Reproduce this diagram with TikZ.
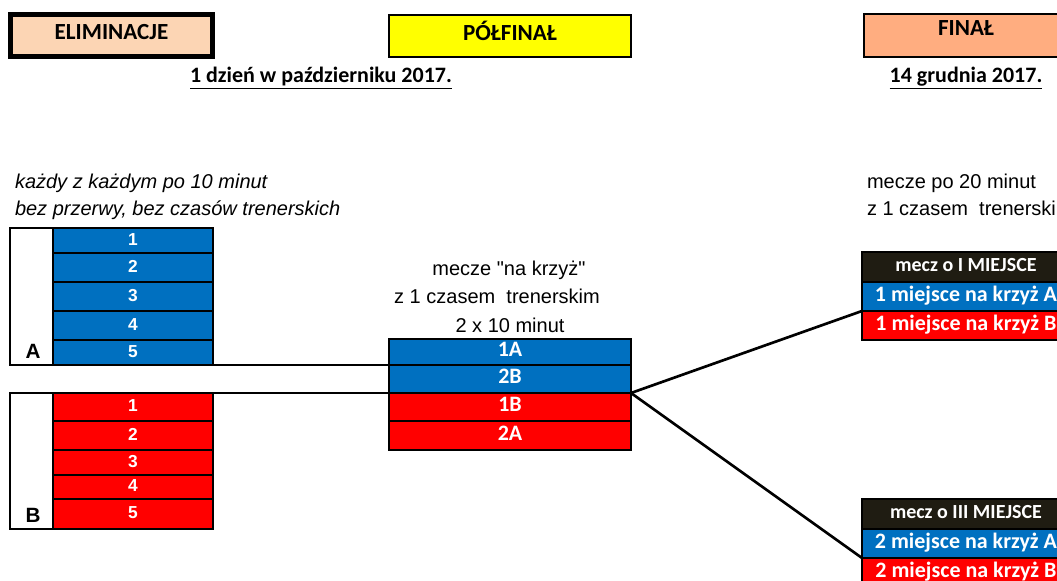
\documentclass[tikz,border=0pt]{standalone}
\usepackage{fontspec}
\setmainfont{Liberation Sans}
\newfontfamily\arialf{Liberation Sans}
\newfontfamily\calfont{Carlito}
\definecolor{xblue}{HTML}{0070C0}
\definecolor{xred}{HTML}{FF0000}
\definecolor{xpeach}{HTML}{FCD5B4}
\definecolor{xyellow}{HTML}{FFFF00}
\definecolor{xsalmon}{HTML}{FFAD80}
\definecolor{xdark}{HTML}{1F1C12}
\begin{document}
\begin{tikzpicture}[x=0.75pt,y=-0.75pt,
  every node/.append style={outer sep=0pt},
  sz/.style 2 args={minimum width=#1*0.75pt, minimum height=#2*0.75pt},
  tcell/.style={draw=black, line width=1.6pt, inner sep=0pt, text=white, text depth=0pt, text height=0.68em},
  numb/.style={tcell, fill=xblue, font=\arialf\bfseries\fontsize{13}{13}\selectfont},
  numr/.style={tcell, fill=xred, font=\arialf\bfseries\fontsize{13}{13}\selectfont},
  semb/.style={tcell, fill=xblue, font=\calfont\bfseries\fontsize{16.5}{16.5}\selectfont},
  semr/.style={tcell, fill=xred, font=\calfont\bfseries\fontsize{16.5}{16.5}\selectfont},
  finh/.style={tcell, fill=xdark, font=\calfont\bfseries\fontsize{15}{15}\selectfont},
  finb/.style={tcell, fill=xblue, font=\calfont\bfseries\fontsize{16.5}{16.5}\selectfont},
  finr/.style={tcell, fill=xred, font=\calfont\bfseries\fontsize{16.5}{16.5}\selectfont},
  outerbox/.style={draw=black, line width=1.6pt, inner sep=0pt},
  grp/.style={font=\arialf\bfseries\fontsize{15.5}{15.5}\selectfont, anchor=base, inner sep=0pt},
  hdr/.style={draw=black, inner sep=0pt, text depth=0pt, text height=0.64em, font=\calfont\bfseries\fontsize{17.3}{17.3}\selectfont},
  hdrtxt/.style={inner sep=0pt, text depth=0pt, text height=0.64em, font=\calfont\bfseries\fontsize{17.3}{17.3}\selectfont},
  datetxt/.style={inner sep=0pt, anchor=base, font=\calfont\bfseries\fontsize{16.5}{16.5}\selectfont},
  note/.style={inner sep=0pt, anchor=base west, font=\arialf\itshape\fontsize{15}{15}\selectfont},
  plain/.style={inner sep=0pt, anchor=base, font=\arialf\fontsize{15}{15}\selectfont},
  plainw/.style={inner sep=0pt, anchor=base west, font=\arialf\fontsize{15}{15}\selectfont},
  hline/.style={draw=black, line width=1.6pt},
  diag/.style={draw=black, line width=2pt}
]
\path[use as bounding box, clip] (0,0) rectangle (1057,581);

% headers
\node[hdr, fill=xpeach, line width=3.75pt, sz={202}{42.2}] (elim) at (111.5,35.6) {ELIMINACJE};
\node[hdr, fill=xyellow, line width=1.5pt, sz={242}{42}] (semi) at (510,36) {PÓŁFINAŁ};
\node[hdr, fill=xsalmon, line width=1.5pt, sz={211}{42.5}] (fin) at (969.5,35.75) {};
\node[hdrtxt] (finlab) at (966,31) {FINAŁ};
\node[datetxt] (d1) at (321,83) {\underline{1 dzień w październiku 2017.}};
\node[datetxt] (d2) at (966,83) {\underline{14 grudnia 2017.}};

% notes
\node[note] (n1) at (15,189) {każdy z każdym po 10 minut};
\node[note] (n2) at (15,215) {bez przerwy, bez czasów trenerskich};
\node[plain] (m1) at (509,275) {mecze "na krzyż"};
\node[plain] (m2) at (497,303) {z 1 czasem\ \ trenerskim};
\node[plain] (m3) at (510,332) {2 x 10 minut};
\node[plainw] (f1) at (867,189) {mecze po 20 minut};
\node[plainw] (f2) at (867,215) {z 1 czasem\ \ trenerskim};

% group A
\node[outerbox, sz={203}{137}] (Aout) at (111.5,296.5) {};
\node[numb, sz={160}{25}] (a1) at (133,240.5) {1};
\node[numb, sz={160}{29}] (a2) at (133,267.5) {2};
\node[numb, sz={160}{29}] (a3) at (133,296.5) {3};
\node[numb, sz={160}{29}] (a4) at (133,325.5) {4};
\node[numb, sz={160}{25}] (a5) at (133,352.5) {5};
\node[grp] (Alab) at (33,358) {A};

% group B
\node[outerbox, sz={203}{136}] (Bout) at (111.5,461) {};
\node[numr, sz={160}{28}] (b1) at (133,407) {1};
\node[numr, sz={160}{29}] (b2) at (133,435.5) {2};
\node[numr, sz={160}{25}] (b3) at (133,462.5) {3};
\node[numr, sz={160}{24}] (b4) at (133,487) {4};
\node[numr, sz={160}{30}] (b5) at (133,514) {5};
\node[grp] (Blab) at (33,522) {B};

% semifinal
\node[semb, sz={242}{26}] (s1) at (510,352) {1A};
\node[semb, sz={242}{28}] (s2) at (510,379) {2B};
\node[semr, sz={242}{28}] (s3) at (510,407) {1B};
\node[semr, sz={242}{29}] (s4) at (510,435.5) {2A};

% final I
\node[finh, sz={208}{30}] (p1h) at (966,267) {mecz o I MIEJSCE};
\node[finb, sz={208}{29}] (p1a) at (966,296.5) {1 miejsce na krzyż A};
\node[finr, sz={208}{29}] (p1b) at (966,325.5) {1 miejsce na krzyż B};

% final III
\node[finh, sz={208}{30}] (p3h) at (966,514) {mecz o III MIEJSCE};
\node[finb, sz={208}{29}] (p3a) at (966,543.5) {2 miejsce na krzyż A};
\node[finr, sz={208}{30}] (p3b) at (966,573) {2 miejsce na krzyż B};

% connectors
\draw[hline] (Aout.south west) -- (s1.south west);
\draw[hline] (Bout.north west) -- (s2.south west);
\draw[diag] (s2.south east) -- (p1a.south west);
\draw[diag] (s2.south east) -- (p3a.south west);
\end{tikzpicture}
\end{document}
